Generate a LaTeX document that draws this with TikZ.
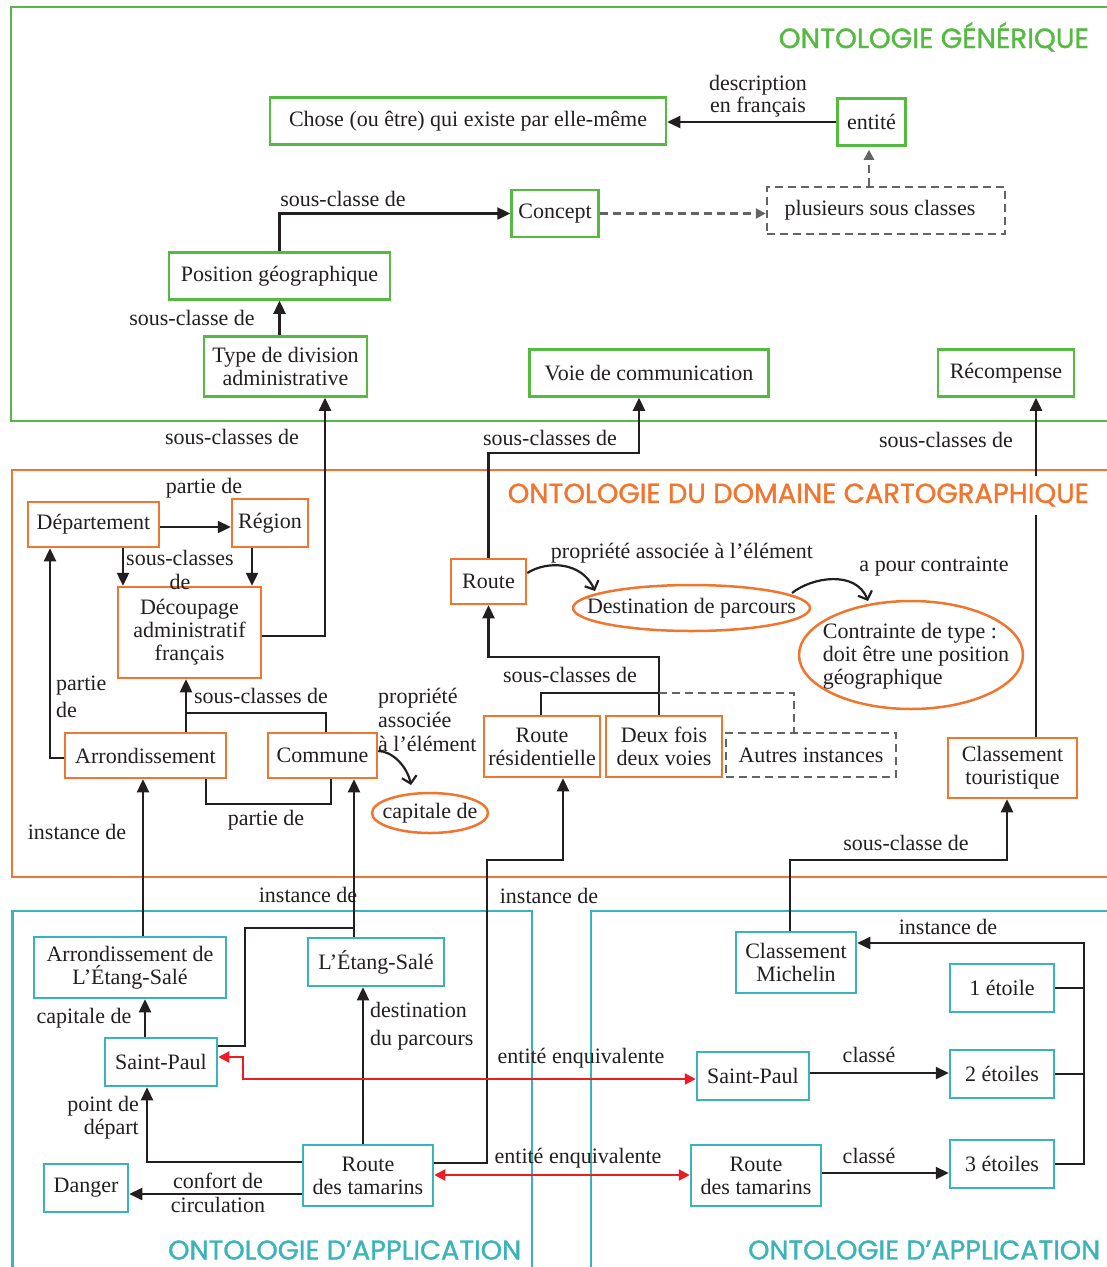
\documentclass[tikz,border=0pt]{standalone}
\usepackage{fontspec}
\usepackage{graphicx}
\setmainfont{Liberation Serif}
\newfontfamily\ttlfont[FakeBold=1.2]{Poppins}
\usetikzlibrary{arrows.meta,shapes.geometric}
\definecolor{ogreen}{RGB}{84,186,64}
\definecolor{oorange}{RGB}{240,118,48}
\definecolor{oteal}{RGB}{58,180,184}
\definecolor{ored}{RGB}{236,28,36}
\definecolor{dgray}{RGB}{100,100,100}
\definecolor{ink}{RGB}{35,31,32}
\begin{document}
\begin{tikzpicture}[x=1pt,y=-1pt,
  every node/.style={font=\fontsize{22}{23}\selectfont, text=ink},
  box/.style={draw, line width=2.5pt, inner sep=0pt, align=center},
  gbox/.style={box, draw=ogreen},
  obox/.style={box, draw=oorange},
  tbox/.style={box, draw=oteal},
  dbox/.style={box, draw=dgray, dash pattern=on 8pt off 5pt},
  oell/.style={ellipse, draw=oorange, line width=2.5pt, inner sep=0pt},
  lbl/.style={inner sep=0pt, align=center},
  frame/.style={line width=2.5pt},
  link/.style={draw=ink, line width=2.4pt},
  arr/.style={link, -{Triangle[length=13pt,width=12pt]}},
  carr/.style={draw=ink, line width=2.2pt, -{Straight Barb[length=7pt,width=15pt]}},
  darr/.style={draw=dgray, line width=2.2pt, dash pattern=on 8pt off 5pt, -{Triangle[length=10pt,width=10pt]}},
  dline/.style={draw=dgray, line width=2.2pt, dash pattern=on 8pt off 5pt},
  rarr/.style={draw=ored, line width=2.2pt, {Triangle[length=11pt,width=11pt]}-{Triangle[length=11pt,width=11pt]}},
  title/.style={inner sep=0pt}
]
\useasboundingbox (0,0) rectangle (1107,1267);
\clip (0,0) rectangle (1107,1267);
\fill[white] (0,0) rectangle (1107,1267);

% ---- frames of the three layers
\draw[frame, ogreen] (11,7) rectangle (1125,421);
\draw[frame, oorange] (12,470) rectangle (1125,877);
\draw[frame, oteal] (12.5,911) rectangle (532,1290);
\draw[frame, oteal] (591,911) rectangle (1125,1290);

% ---- generic ontology
\node[gbox, minimum width=396pt, minimum height=47pt] (chose) at (468,121) {Chose (ou être) qui existe par elle-même};
\node[gbox, minimum width=68pt, minimum height=47pt] (entite) at (871.5,122) {entité};
\node[gbox, minimum width=87pt, minimum height=47pt] (concept) at (555,213.5) {Concept};
\node[dbox, minimum width=238pt, minimum height=47pt] (plusieurs) at (886,210.5) {plusieurs sous classes\hspace*{12pt}};
\node[gbox, minimum width=221pt, minimum height=47pt] (position) at (279.5,276) {Position géographique};
\node[gbox, minimum width=163pt, minimum height=60pt] (typediv) at (285.5,366.5) {Type de division\\administrative};
\node[gbox, minimum width=239pt, minimum height=47pt] (voie) at (649,373) {Voie de communication};
\node[gbox, minimum width=136pt, minimum height=47pt] (recomp) at (1006,373) {Récompense};

% ---- cartographic domain ontology
\node[obox, minimum width=131pt, minimum height=45pt] (dept) at (93.5,524.5) {Département};
\node[obox, minimum width=76pt, minimum height=48pt] (region) at (270,523) {Région};
\node[obox, minimum width=143pt, minimum height=91pt] (decoup) at (189.5,632.5) {Découpage\\administratif\\français};
\node[obox, minimum width=161pt, minimum height=45pt] (arrond) at (145.5,755.5) {Arrondissement};
\node[obox, minimum width=109pt, minimum height=45pt] (commune) at (322.5,755.5) {Commune};
\node[oell, minimum width=116pt, minimum height=40pt] (capitale) at (430,813) {};
\node at (capitale.center) {capitale de};
\node[obox, minimum width=75pt, minimum height=45pt] (route) at (488.5,581.5) {Route};
\node[oell, minimum width=237pt, minimum height=46pt] (destin) at (691.5,608) {};
\node at (destin.center) {Destination de parcours};
\node[oell, minimum width=224pt, minimum height=108pt] (contr) at (911,655) {};
\node[align=left, inner sep=0pt] at (916,656) {Contrainte de type :\\doit être une position\\géographique};
\node[obox, minimum width=116pt, minimum height=61pt] (routeres) at (542,746.5) {Route\\résidentielle};
\node[obox, minimum width=116pt, minimum height=61pt] (deuxfois) at (664,746.5) {Deux fois\\deux voies};
\node[dbox, minimum width=170pt, minimum height=44pt] (autres) at (811,755) {Autres instances};
\node[obox, minimum width=129pt, minimum height=60pt] (classtour) at (1012.5,768) {Classement\\touristique};

% ---- application ontologies
\node[tbox, minimum width=192pt, minimum height=61pt] (arretang) at (130,967.5) {Arrondissement de\\L’Étang-Salé};
\node[tbox, minimum width=136pt, minimum height=48pt] (etang) at (376,962) {L’Étang-Salé};
\node[tbox, minimum width=112pt, minimum height=48pt] (stpaul) at (161,1062) {Saint-Paul};
\node[tbox, minimum width=84pt, minimum height=48pt] (danger) at (86,1188) {Danger};
\node[tbox, minimum width=130pt, minimum height=61pt] (routetam) at (368,1175.5) {Route\\des tamarins};
\node[tbox, minimum width=120pt, minimum height=61pt] (michelin) at (796,962.5) {Classement\\Michelin};
\node[tbox, minimum width=104pt, minimum height=48pt] (etoile1) at (1002,988) {1 étoile};
\node[tbox, minimum width=104pt, minimum height=48pt] (etoile2) at (1002,1074) {2 étoiles};
\node[tbox, minimum width=104pt, minimum height=48pt] (etoile3) at (1002,1164) {3 étoiles};
\node[tbox, minimum width=112pt, minimum height=48pt] (stpaul2) at (753,1076) {Saint-Paul};
\node[tbox, minimum width=130pt, minimum height=61pt] (routetam2) at (756,1175.5) {Route\\des tamarins};

% ---- connectors, generic layer
\draw[arr] (entite.west) -- (entite.west -| chose.east);
\node[lbl, font=\fontsize{22}{22}\selectfont] at (758,96) {description\\en français};
\draw[darr] (concept.east) -- (plusieurs.west |- concept.east);
\draw[darr, shorten >=3pt] (plusieurs.north -| 869,0) -- (entite.south -| 869,0);
\draw[arr] (position.north) |- (concept.west);
\node[lbl] at (343,199) {sous-classe de};
\draw[arr] (typediv.north -| 279.5,0) -- (position.south);
\node[lbl] at (192,318) {sous-classe de};
\draw[arr] (decoup.east |- 0,636) -| (typediv.south -| 325,0);
\node[lbl] at (232,437) {sous-classes de};
\draw[arr] (route.north) |- (639,453) -- (voie.south -| 639,0);
\node[lbl] at (550,438) {sous-classes de};
\draw[arr] (classtour.north -| 1036,0) -- (recomp.south -| 1036,0);
\node[lbl] at (946,440) {sous-classes de};

% ---- connectors, domain layer
\draw[arr] (dept.east |- 0,527) -- (region.west |- 0,527);
\node[lbl] at (204,488) {partie de};
\draw[arr] (dept.south -| 123,0) -- (decoup.north -| 123,0);
\draw[arr] (region.south -| 252,0) -- (decoup.north -| 252,0);
\node[lbl, font=\fontsize{22}{24}\selectfont] at (180,570) {sous-classes\\de};
\draw[arr] (arrond.west |- 0,758) -| (dept.south -| 50,0);
\node[lbl, align=left, anchor=west, font=\fontsize{22}{27}\selectfont] at (56,697) {partie\\de};
\draw[arr] (arrond.north -| 186,0) -- (decoup.south -| 186,0);
\draw[link] (commune.north -| 326,0) |- (186,713);
\node[lbl] at (261,696) {sous-classes de};
\draw[link] (arrond.south -| 206,0) |- (331,804) -- (commune.south -| 331,0);
\node[lbl] at (266,820) {partie de};
\draw[carr] (commune.east |- 0,751) .. controls (392,751) and (407,766) .. (411,785);
\node[lbl, align=left, anchor=west, font=\fontsize{22}{24}\selectfont] at (378,720) {propriété\\associée\\à l’élément};
\draw[carr] (route.east |- 0,573) .. controls (548,560) and (582,562) .. (595,591);
\node[lbl] at (682,553) {propriété associée à l’élément};
\draw[carr] (792,593) .. controls (812,577) and (856,570) .. (868,601);
\node[lbl] at (934,567) {a pour contrainte};
\draw[arr] (deuxfois.north -| 659,0) -- (659,657) -| (route.south);
\draw[link] (routeres.north -| 541,0) |- (659,693);
\draw[dline] (659,693) -| (autres.north -| 794,0);
\node[lbl] at (570,675) {sous-classes de};

% ---- links from the application layers
\draw[arr] (routetam.east |- 0,1163) -| (487,860) -| (routeres.south -| 563,0);
\node[lbl] at (549,896) {instance de};
\draw[arr] (michelin.north -| 790,0) |- (1007,860) -- (classtour.south -| 1007,0);
\node[lbl] at (906,843) {sous-classe de};
\draw[arr] (arretang.north -| 143,0) -- (arrond.south -| 143,0);
\node[lbl] at (77,832) {instance de};
\node[lbl] at (308,895) {instance de};
\draw[arr] (etang.north -| 354,0) -- (commune.south -| 354,0);
\draw[link] (stpaul.east |- 0,1046) -| (245,928) -- (354,928);

% ---- connectors inside the application layers
\draw[arr] (stpaul.north -| 145,0) -- (arretang.south -| 145,0);
\node[lbl] at (84,1018) {capitale de};
\draw[arr] (routetam.north -| 363,0) -- (etang.south -| 363,0);
\node[lbl, align=left, anchor=west, font=\fontsize{22}{28}\selectfont] at (370,1026) {destination\\du parcours};
\draw[arr] (routetam.west |- 0,1162) -| (stpaul.south -| 147,0);
\node[lbl, align=right, anchor=east] at (139,1118) {point de\\départ};
\draw[arr] (routetam.west |- 0,1194) -- (danger.east |- 0,1194);
\node[lbl, font=\fontsize{22}{24}\selectfont] at (218,1193) {confort de\\circulation};
\draw[rarr] (stpaul.east |- 0,1057) -| (243,1079) -- (stpaul2.west |- 0,1079);
\node[lbl] at (581,1058) {entité enquivalente};
\draw[rarr] (routetam.east |- 0,1175) -- (routetam2.west |- 0,1175);
\node[lbl] at (578,1158) {entité enquivalente};
\draw[arr] (stpaul2.east |- 0,1073) -- (etoile2.west |- 0,1073);
\node[lbl] at (869,1055) {classé};
\draw[arr] (routetam2.east |- 0,1173) -- (etoile3.west |- 0,1173);
\node[lbl] at (869,1156) {classé};
\draw[arr] (etoile3.east) -| (1084,943) -- (michelin.east |- 0,943);
\draw[link] (etoile1.east) -- (1084,988);
\draw[link] (etoile2.east) -- (1084,1074);
\node[lbl] at (948,927) {instance de};

% ---- layer titles
\node[title, anchor=east, text=ogreen] (tgen) at (1089,37) {\resizebox{310pt}{!}{\ttlfont ONTOLOGIE GÉNÉRIQUE}};
\node[title, anchor=east, text=oorange, fill=white, inner ysep=8pt, inner xsep=2pt] (tdom) at (1091,495) {\resizebox{581pt}{!}{\ttlfont ONTOLOGIE DU DOMAINE CARTOGRAPHIQUE}};
\node[title, anchor=west, text=oteal] (tapp1) at (168,1250) {\resizebox{353pt}{!}{\ttlfont ONTOLOGIE D’APPLICATION}};
\node[title, anchor=west, text=oteal] (tapp2) at (748,1250) {\resizebox{352pt}{!}{\ttlfont ONTOLOGIE D’APPLICATION}};
\end{tikzpicture}
\end{document}
